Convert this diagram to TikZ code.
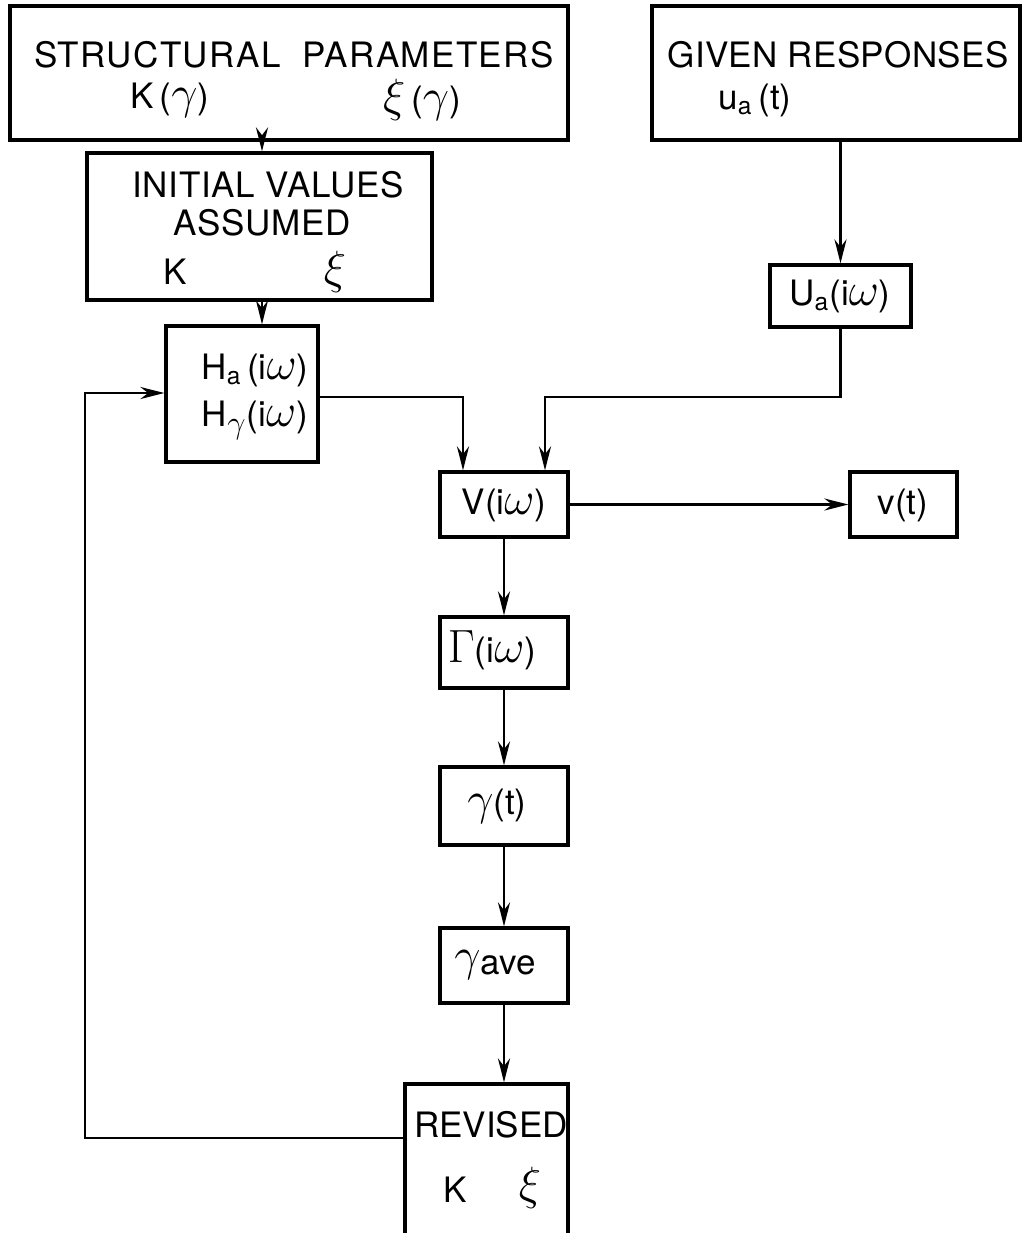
\documentclass[tikz,border=0pt]{standalone}
\usepackage{fontspec}
\setsansfont{TeX Gyre Heros}
\usetikzlibrary{arrows.meta}
\newcommand{\bigsym}[1]{\scalebox{1.35}{$#1$}}

\begin{document}
\begin{tikzpicture}[x=0.5pt,y=-0.5pt,
    box/.style={draw, line width=1.6pt, inner sep=0pt},
    txt/.style={inner sep=0pt, font=\sffamily\fontsize{17.5}{22}\selectfont},
    flow/.style={line width=1.3pt, -{Stealth[length=12pt,width=6pt]}}]
    \useasboundingbox (0,0) rectangle (1024,1233);
    % boxes
    \node[box, minimum width=279pt, minimum height=67pt] (sp) at (289,73) {};
    \node[box, minimum width=184pt, minimum height=67pt] (gr) at (836,73) {};
    \node[box, minimum width=172.5pt, minimum height=73.5pt] (iv) at (259.5,226.5) {};
    \node[box, minimum width=70.5pt, minimum height=31pt] (ua) at (840.5,296) {};
    \node[box, minimum width=76pt, minimum height=68pt] (h) at (242,394) {};
    \node[box, minimum width=64pt, minimum height=32.5pt] (V) at (504,504.5) {};
    \node[box, minimum width=53.5pt, minimum height=32.5pt] (vt) at (903.5,504.5) {};
    \node[box, minimum width=64pt, minimum height=35.5pt] (G) at (504,652.5) {};
    \node[box, minimum width=64pt, minimum height=39pt] (gt) at (504,806) {};
    \node[box, minimum width=64pt, minimum height=37.5pt] (ga) at (504,965.5) {};
    \node[box, minimum width=81.5pt, minimum height=78pt] (rev) at (486.5,1162) {};
    % texts
    \node[txt] (spt) at (294,55) {\addfontfeature{LetterSpace=4}STRUCTURAL\ \ PARAMETERS};
    \node[txt] (spk) at (170,100) {K\,(\bigsym{\gamma})};
    \node[txt] (spx) at (422,100) {\bigsym{\xi}\,(\bigsym{\gamma})};
    \node[txt] (grt) at (838,55) {\addfontfeature{LetterSpace=1}GIVEN RESPONSES};
    \node[txt] (gru) at (755,100) {u$_{\mathsf{a}}$\,(t)};
    \node[txt] (iv1) at (268,185) {\addfontfeature{LetterSpace=2}INITIAL VALUES};
    \node[txt] (iv2) at (262,223) {\addfontfeature{LetterSpace=2}ASSUMED};
    \node[txt] (ivk) at (175,272) {K};
    \node[txt] (ivx) at (335,272) {\bigsym{\xi}};
    \node[txt] (uat) at (840,296) {U$_{\mathsf{a}}$(i\bigsym{\omega})};
    \node[txt] (h1) at (255,370) {H$_{\mathsf{a}}$\,(i\bigsym{\omega})};
    \node[txt] (h2) at (255,420) {H\bigsym{_\gamma}(i\bigsym{\omega})};
    \node[txt] (Vt) at (504,505) {V(i\bigsym{\omega})};
    \node[txt] (vtt) at (903,505) {v(t)};
    \node[txt] (Gt) at (492,650) {\bigsym{\Gamma}(i\bigsym{\omega})};
    \node[txt] (gtt) at (497,806) {\bigsym{\gamma}(t)};
    \node[txt] (gat) at (495,965) {\bigsym{\gamma}\raisebox{-2pt}{ave}};
    \node[txt] (rv1) at (491,1125) {REVISED};
    \node[txt] (rvk) at (455,1190) {K};
    \node[txt] (rvx) at (530,1188) {\bigsym{\xi}};
    % connectors
    \coordinate (hv) at (463,397);
    \coordinate (uv) at (545,397);
    \coordinate (lb) at (85,1138);
    \coordinate (lt) at (85,393);
    \draw[flow] (sp.south -| 262,0) -- (iv.north -| 262,0);
    \draw[flow] (iv.south -| 262,0) -- (h.north -| 262,0);
    \draw[flow] (ua.north |- gr.south) -- (ua.north);
    \draw[flow] (ua.south) |- (uv) -- (uv |- V.north);
    \draw[flow] (h.east |- hv) -- (hv) -- (hv |- V.north);
    \draw[flow] (V.east) -- (vt.west);
    \draw[flow] (V.south) -- (G.north);
    \draw[flow] (G.south) -- (gt.north);
    \draw[flow] (gt.south) -- (ga.north);
    \draw[flow] (ga.south) -- (ga.south |- rev.north);
    \draw[flow] (rev.west |- lb) -- (lb) -- (lt) -- (h.west |- lt);
\end{tikzpicture}
\end{document}
